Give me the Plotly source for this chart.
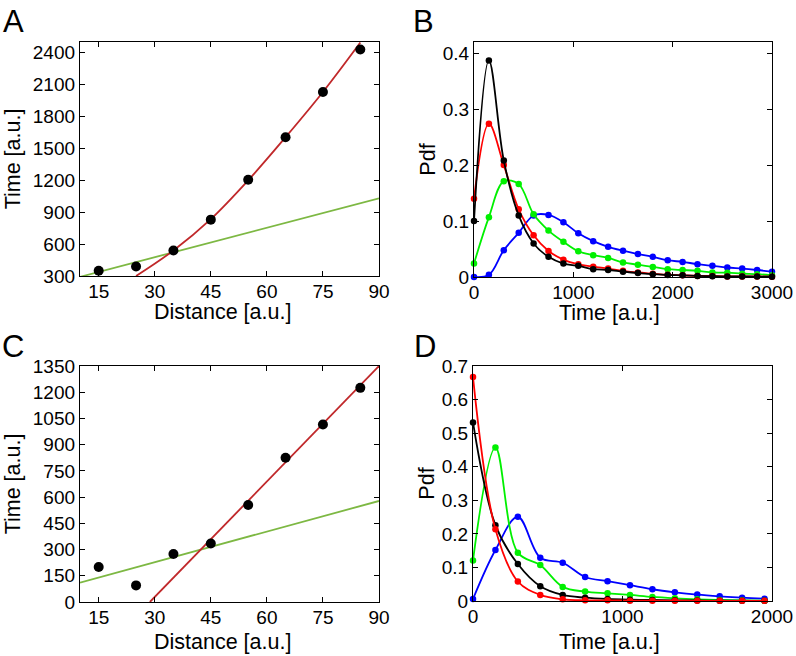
import plotly.graph_objects as go

# ---------------- Panel A ----------------
a_dist = [15, 25, 35, 45, 55, 65, 75, 85]
a_time = [350, 390, 540, 830, 1205, 1605, 2030, 2430]
a_red_x = [25, 35, 45, 55, 65, 75, 85]
a_red_y = [300, 540, 835, 1200, 1605, 2030, 2495]
a_green_x = [10, 90]
a_green_y = [292, 1031]
a_xticks = [15, 30, 45, 60, 75, 90]
a_yticks = [300, 600, 900, 1200, 1500, 1800, 2100, 2400]

# ---------------- Panel C ----------------
c_dist = [15, 25, 35, 45, 55, 65, 75, 85]
c_time = [200, 95, 275, 335, 555, 825, 1015, 1225]
c_red_x = [28.7, 90]
c_red_y = [0, 1350]
c_green_x = [10, 90]
c_green_y = [111, 578]
c_xticks = [15, 30, 45, 60, 75, 90]
c_yticks = [0, 150, 300, 450, 600, 750, 900, 1050, 1200, 1350]

# ---------------- Panel B ----------------
b_t = [0, 150, 300, 450, 600, 750, 900, 1050, 1200, 1350, 1500, 1650, 1800,
       1950, 2100, 2250, 2400, 2550, 2700, 2850, 3000]
b_black = [0.100, 0.387, 0.208, 0.110, 0.060, 0.036, 0.024, 0.020, 0.014, 0.0125,
           0.0095, 0.007, 0.005, 0.0035, 0.003, 0.002, 0.0015, 0.001, 0.001, 0.0008, 0.0005]
b_red = [0.140, 0.274, 0.200, 0.121, 0.0745, 0.0465, 0.031, 0.0227, 0.0185, 0.015,
         0.011, 0.008, 0.006, 0.004, 0.003, 0.002, 0.002, 0.001, 0.001, 0.001, 0.0005]
b_green = [0.024, 0.107, 0.171, 0.166, 0.112, 0.083, 0.063, 0.046, 0.039, 0.034,
           0.026, 0.022, 0.018, 0.014, 0.0125, 0.011, 0.008, 0.0077, 0.006, 0.005, 0.003]
b_blue = [0.0, 0.004, 0.048, 0.079, 0.110, 0.111, 0.098, 0.078, 0.064, 0.054,
          0.047, 0.041, 0.036, 0.030, 0.027, 0.023, 0.020, 0.017, 0.015, 0.0125, 0.0095]
b_xticks = [0, 1000, 2000, 3000]
b_yticks = [0, 0.1, 0.2, 0.3, 0.4]
b_yticklabels = ["0", "0.1", "0.2", "0.3", "0.4"]

# ---------------- Panel D ----------------
d_t = [0, 150, 300, 450, 600, 750, 900, 1050, 1200, 1350, 1500, 1650, 1800, 1950]
d_black = [0.532, 0.226, 0.110, 0.044, 0.018, 0.010, 0.006, 0.004, 0.003, 0.002,
           0.0015, 0.001, 0.001, 0.0005]
d_red = [0.667, 0.2135, 0.058, 0.018, 0.005, 0.002, 0.002, 0.001, 0.001, 0.001,
         0.0005, 0.0005, 0.0005, 0.0005]
d_green = [0.121, 0.457, 0.144, 0.107, 0.042, 0.028, 0.023, 0.018, 0.012, 0.008,
           0.005, 0.003, 0.002, 0.001]
d_blue = [0.006, 0.152, 0.251, 0.129, 0.114, 0.0715, 0.059, 0.047, 0.035, 0.026,
          0.019, 0.014, 0.010, 0.007]
d_xticks = [0, 1000, 2000]
d_yticks = [0, 0.1, 0.2, 0.3, 0.4, 0.5, 0.6, 0.7]
d_yticklabels = ["0", "0.1", "0.2", "0.3", "0.4", "0.5", "0.6", "0.7"]

W, H = 796, 656
FONT = "Liberation Sans, Arial, sans-serif"
FIT_RED = "#C0282A"
FIT_GREEN = "#7DB843"
COLS = {"k": "#000000", "r": "#FF0000", "g": "#00F000", "b": "#0000FF"}

fig = go.Figure()


def dom_x(x0, x1):
    return [x0 / W, x1 / W]


def dom_y(top, bottom):
    return [1 - bottom / H, 1 - top / H]


def scatter_panel(xa, ya, dist, time, rx, ry, gx, gy, red_shape):
    fig.add_trace(go.Scatter(x=gx, y=gy, mode="lines", xaxis=xa, yaxis=ya,
                             line=dict(color=FIT_GREEN, width=1.8), showlegend=False))
    fig.add_trace(go.Scatter(x=rx, y=ry, mode="lines", xaxis=xa, yaxis=ya,
                             line=dict(color=FIT_RED, width=1.8, shape=red_shape),
                             showlegend=False))
    fig.add_trace(go.Scatter(x=dist, y=time, mode="markers", xaxis=xa, yaxis=ya,
                             marker=dict(color="black", size=10), showlegend=False,
                             cliponaxis=False))


def pdf_panel(xa, ya, t, series):
    for key, vals in series:
        fig.add_trace(go.Scatter(x=t, y=vals, mode="lines+markers", xaxis=xa, yaxis=ya,
                                 line=dict(color=COLS[key], width=1.8, shape="spline",
                                           smoothing=1.0),
                                 marker=dict(color=COLS[key], size=6.5),
                                 showlegend=False, cliponaxis=False))


scatter_panel("x", "y", a_dist, a_time, a_red_x, a_red_y, a_green_x, a_green_y, "spline")
pdf_panel("x2", "y2", b_t, [("b", b_blue), ("g", b_green), ("r", b_red), ("k", b_black)])
scatter_panel("x3", "y3", c_dist, c_time, c_red_x, c_red_y, c_green_x, c_green_y, "linear")
pdf_panel("x4", "y4", d_t, [("b", d_blue), ("g", d_green), ("k", d_black), ("r", d_red)])

TICKF = dict(family=FONT, size=19, color="black")
TITLEF = dict(family=FONT, size=21.5, color="black")


def axis(domain, rng, tickvals, anchor, title=None, ticktext=None, standoff=4, xaxis=False):
    d = dict(domain=domain, range=rng, tickvals=tickvals, anchor=anchor,
             showline=True, mirror="ticks", linecolor="black", linewidth=1.3,
             ticks="inside", ticklen=5, tickwidth=1.2, tickcolor="black",
             showgrid=False, zeroline=False, tickfont=TICKF, automargin=False)
    if xaxis:
        d["ticklabelstandoff"] = -2
    if title is not None:
        d["title"] = dict(text=title, font=TITLEF, standoff=standoff)
    if ticktext is not None:
        d["ticktext"] = ticktext
    return d


fig.update_layout(
    width=W, height=H,
    margin=dict(l=0, r=0, t=0, b=0, autoexpand=False),
    paper_bgcolor="white", plot_bgcolor="white",
    xaxis=axis(dom_x(80, 379), [10, 90], a_xticks, "y", xaxis=True),
    yaxis=axis(dom_y(42, 276), [300, 2500], a_yticks, "x", "Time [a.u.]", standoff=6),
    xaxis2=axis(dom_x(474, 772), [0, 3000], b_xticks, "y2", xaxis=True),
    yaxis2=axis(dom_y(42, 277), [0, 0.42], b_yticks, "x2", "Pdf", b_yticklabels, standoff=1),
    xaxis3=axis(dom_x(80, 379), [10, 90], c_xticks, "y3", xaxis=True),
    yaxis3=axis(dom_y(366, 602), [0, 1350], c_yticks, "x3", "Time [a.u.]", standoff=6),
    xaxis4=axis(dom_x(473, 772), [0, 2000], d_xticks, "y4", xaxis=True),
    yaxis4=axis(dom_y(366, 601), [0, 0.7], d_yticks, "x4", "Pdf", d_yticklabels, standoff=1),
)

# x-axis titles (placed as paper annotations to match the reference spacing)
x_titles = [("Distance [a.u.]", 222, 312), ("Time [a.u.]", 609, 313),
            ("Distance [a.u.]", 222, 642), ("Time [a.u.]", 609, 642)]
for text, cx, cy in x_titles:
    fig.add_annotation(text=text, xref="paper", yref="paper", x=cx / W, y=1 - cy / H,
                       xanchor="center", yanchor="middle", showarrow=False,
                       font=TITLEF)

for letter, x, y in [("A", 1, 2), ("B", 411, 2), ("C", 0, 327), ("D", 412, 327)]:
    fig.add_annotation(text=letter, xref="paper", yref="paper", x=x / W, y=1 - y / H,
                       xanchor="left", yanchor="top", showarrow=False,
                       font=dict(family=FONT, size=31, color="black"))

fig.write_html("out.html", config={"displayModeBar": False},
               post_script="document.body.style.margin='0';document.body.style.overflow='hidden';")
